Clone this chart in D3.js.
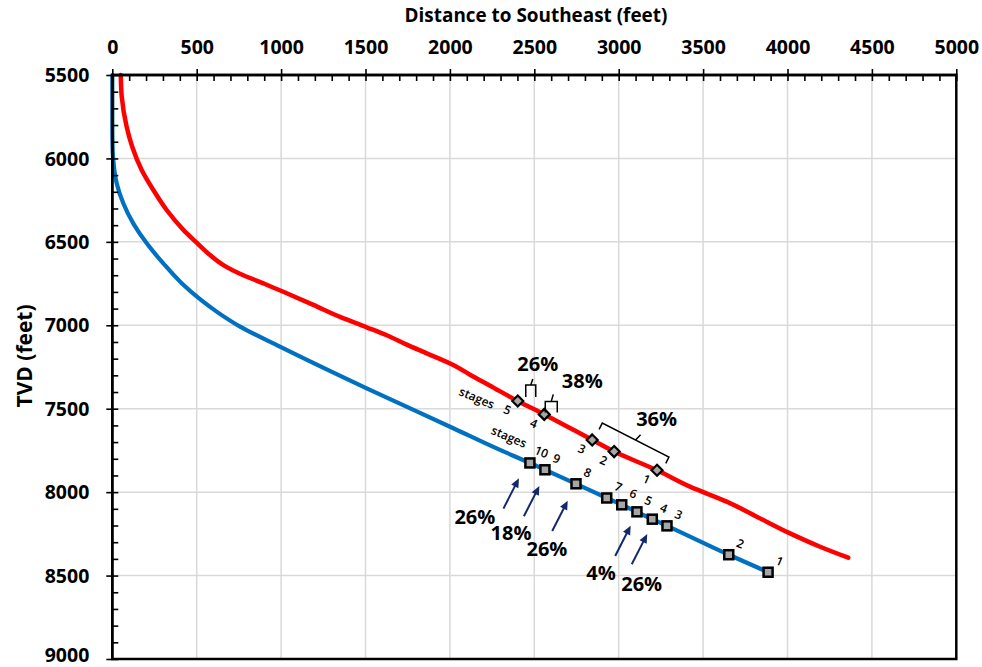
<!DOCTYPE html>
<html><head><meta charset="utf-8">
<script src="https://cdn.jsdelivr.net/npm/d3@7"></script>
<style>body{margin:0;background:#fff} text{font-family:"Open Sans","Noto Sans",sans-serif}</style>
</head><body><svg id="c" width="982" height="667"></svg>
<script>
// ---------------- DATA ----------------
const xTicks = [0,500,1000,1500,2000,2500,3000,3500,4000,4500,5000];
const yTicks = [5500,6000,6500,7000,7500,8000,8500,9000];
const xTitle = "Distance to Southeast (feet)";
const yTitle = "TVD (feet)";

// well paths [distance, TVD]
const redCurve = [[50,5500],[56,5630],[85,5810],[118,5930],[174,6069],[243,6189],[322,6309],[421,6428],[500,6505],[579,6579],[658,6639],[776,6700],[915,6757],[1033,6808],[1191,6878],[1349,6950],[1507,7012],[1626,7060],[1744,7116],[1863,7168],[2020,7238],[2119,7296],[2238,7362],[2402,7454],[2559,7534],[2843,7687],[2973,7757],[3227,7869],[3422,7967],[3640,8057],[3818,8147],[4015,8247],[4193,8327],[4360,8393]];
const blueCurve = [[0,5500],[0,5800],[2,5950],[6,6009],[12,6069],[26,6149],[65,6269],[124,6389],[204,6509],[302,6629],[411,6748],[525,6848],[618,6918],[757,7008],[993,7128],[1507,7378],[2020,7617],[2297,7747]];

// stages
const redStageNums = [5,4,3,2,1];
const redStageDist = [2402,2559,2843,2973,3227];
const redStageTVD  = [7454,7534,7687,7757,7869];
const blueStageNums = [10,9,8,7,6,5,4,3,2,1];
const blueStageDist = [2474,2563,2747,2929,3018,3108,3199,3286,3652,3885];
const blueStageTVD  = [7825,7866,7950,8035,8076,8118,8162,8202,8375,8480];

// red bracket annotations (stage ranges)
const redBracketFrom = [5,4,3];
const redBracketTo   = [5,4,1];
const redPct = ["26%","38%","36%"];

// blue arrow annotations
const bluePct = ["26%","18%","26%","4%","26%"];
const blueArrowDist = [2409,2530,2698,3071,3169];
const blueArrowTVD  = [7917,7963,8051,8201,8251];
const bluePctDist = [2148,2362,2575,2895,3136];
const bluePctTVD  = [8149,8245,8341,8485,8550];

// ---------------- STYLE ----------------
const W=982,H=667, L=112.3, R=956.3, T=75, B=659;
const RED="#ff0000", BLUE="#0070c0", NAVY="#14296b", GRID="#d9d9d9", MFILL="#a6a6a6";
const bracketStyle = [
  {off:[13,-16], hw:5,  leg:12, ang:0,  tick:6, lab:[7,-21]},
  {off:[7,-13],  hw:6,  leg:11, ang:0,  tick:7, lab:[31,-21]},
  {off:[11,-15], hw:37.4, leg:7, ang:27, tick:7, lab:[21,-21]}
];

const svg = d3.select("#c");
svg.append("rect").attr("width",W).attr("height",H).attr("fill","#fff");

const x = d3.scaleLinear().domain([0,5000]).range([L,R]);
const y = d3.scaleLinear().domain([5500,9000]).range([T,B]);

// gridlines
const grid = svg.append("g");
grid.selectAll(".gx").data(xTicks.slice(1,-1)).join("line")
  .attr("x1",d=>x(d)).attr("x2",d=>x(d)).attr("y1",T).attr("y2",B)
  .attr("stroke",GRID).attr("stroke-width",1.5);
grid.selectAll(".gy").data(yTicks.slice(1,-1)).join("line")
  .attr("y1",d=>y(d)).attr("y2",d=>y(d)).attr("x1",L).attr("x2",R)
  .attr("stroke",GRID).attr("stroke-width",1.5);

// lines
const line = d3.line().x(d=>x(d[0])).y(d=>y(d[1])).curve(d3.curveMonotoneY);
const blueStages = blueStageNums.map((n,i)=>({n, d:blueStageDist[i], t:blueStageTVD[i]}));
const redStages = redStageNums.map((n,i)=>({n, d:redStageDist[i], t:redStageTVD[i]}));
const bluePath = blueCurve.concat(blueStages.slice().sort((a,b)=>a.t-b.t).map(s=>[s.d,s.t]));
svg.append("path").attr("d",line(redCurve)).attr("fill","none").attr("stroke",RED).attr("stroke-width",4.5).attr("stroke-linecap","round");
svg.append("path").attr("d",line(bluePath)).attr("fill","none").attr("stroke",BLUE).attr("stroke-width",4.2).attr("stroke-linecap","round");

// border
svg.append("rect").attr("x",L).attr("y",T).attr("width",R-L).attr("height",B-T)
  .attr("fill","none").attr("stroke","#000").attr("stroke-width",2.5);

// axes
const minorX = d3.range(0,5001,100).filter(v=>v%500!==0);
const minorY = d3.range(5500,9001,100).filter(v=>v%500!==0);
function styleAxis(g){ g.selectAll(".domain").remove(); g.selectAll(".tick line").attr("stroke","#000").attr("stroke-width",1.6); }
const TICKFS = 19.5;
const ax = svg.append("g").attr("transform",`translate(0,${T})`)
  .call(d3.axisTop(x).tickValues(xTicks).tickSize(6).tickPadding(15).tickFormat(d3.format("d")));
styleAxis(ax);
ax.selectAll("text").attr("font-size",TICKFS).attr("font-weight","bold").attr("fill","#000");
svg.append("g").attr("transform",`translate(0,${T})`).call(d3.axisTop(x).tickValues(xTicks).tickSize(-6).tickFormat("")).call(styleAxis);
svg.append("g").attr("transform",`translate(0,${T})`).call(d3.axisTop(x).tickValues(minorX).tickSize(-6).tickFormat("")).call(styleAxis);

const ay = svg.append("g").attr("transform",`translate(${L},0)`)
  .call(d3.axisLeft(y).tickValues(yTicks).tickSize(6).tickPadding(17).tickFormat(d3.format("d")));
styleAxis(ay);
ay.selectAll("text").attr("font-size",TICKFS).attr("font-weight","bold").attr("fill","#000")
  .attr("dy",d=>d===9000?"0.12em":"0.34em");
svg.append("g").attr("transform",`translate(${L},0)`).call(d3.axisLeft(y).tickValues(yTicks).tickSize(-6).tickFormat("")).call(styleAxis);
svg.append("g").attr("transform",`translate(${L},0)`).call(d3.axisLeft(y).tickValues(minorY).tickSize(-6).tickFormat("")).call(styleAxis);

// axis lines on top
svg.append("line").attr("x1",L).attr("x2",R).attr("y1",T).attr("y2",T).attr("stroke","#000").attr("stroke-width",2.5);
svg.append("line").attr("x1",L).attr("x2",L).attr("y1",T).attr("y2",B).attr("stroke","#000").attr("stroke-width",2.5);

// titles (sized to match the reference widths)
function fitText(sel, target, fs){ sel.attr("font-size",fs); const w=sel.node().getComputedTextLength(); sel.attr("font-size", fs*target/w); }
const tx = svg.append("text").attr("x",536).attr("y",22).attr("text-anchor","middle")
  .attr("font-weight","bold").text(xTitle);
fitText(tx, 263, 18);
const ty = svg.append("text").attr("transform","translate(32,356) rotate(-90)").attr("text-anchor","middle")
  .attr("font-weight","bold").text(yTitle);
fitText(ty, 103, 18);

// markers
svg.selectAll(".bm").data(blueStages).join("rect")
  .attr("x",d=>x(d.d)-4.5).attr("y",d=>y(d.t)-4.5).attr("width",9).attr("height",9)
  .attr("fill",MFILL).attr("stroke","#000").attr("stroke-width",2.5);
svg.selectAll(".rm").data(redStages).join("path")
  .attr("d",d=>{const cx=x(d.d), cy=y(d.t), r=5.5; return `M${cx},${cy-r}L${cx+r},${cy}L${cx},${cy+r}L${cx-r},${cy}Z`;})
  .attr("fill",MFILL).attr("stroke","#000").attr("stroke-width",2.2);

// stage labels
const ANG=23, SFS=12, SFW=600;
svg.selectAll(".rl").data(redStages).join("text")
  .attr("transform",d=>`translate(${x(d.d)-10.5},${y(d.t)+9}) rotate(${ANG})`)
  .attr("text-anchor","middle").attr("dy","0.35em").attr("font-size",SFS).attr("font-weight",SFW).text(d=>d.n);
svg.selectAll(".bl").data(blueStages).join("text")
  .attr("transform",d=>`translate(${x(d.d)+11.5},${y(d.t)-11}) rotate(${ANG})`)
  .attr("text-anchor","middle").attr("dy","0.35em").attr("font-size",SFS).attr("font-weight",SFW).text(d=>d.n);
const r5 = redStages[0], b10 = blueStages[0];
svg.append("text").attr("transform",`translate(${x(r5.d)-41},${y(r5.t)-3}) rotate(${ANG})`)
  .attr("text-anchor","middle").attr("dy","0.35em").attr("font-size",SFS).attr("font-weight",SFW).text("stages");
svg.append("text").attr("transform",`translate(${x(b10.d)-21},${y(b10.t)-26}) rotate(${ANG})`)
  .attr("text-anchor","middle").attr("dy","0.35em").attr("font-size",SFS).attr("font-weight",SFW).text("stages");

// red brackets
const stagePos = n => { const s = redStages.find(s=>s.n===n); return [x(s.d), y(s.t)]; };
redPct.forEach((lab,i)=>{
  const st = bracketStyle[i];
  const p1 = stagePos(redBracketFrom[i]), p2 = stagePos(redBracketTo[i]);
  const cx = (p1[0]+p2[0])/2 + st.off[0], cy = (p1[1]+p2[1])/2 + st.off[1];
  const a = st.ang*Math.PI/180, c=Math.cos(a), s=Math.sin(a);
  const P = (u,v)=>[cx+u*c - v*s, cy+u*s + v*c];
  const pts = [P(-st.hw,st.leg),P(-st.hw,0),P(st.hw,0),P(st.hw,st.leg)];
  svg.append("path").attr("d","M"+pts.map(p=>p.join(",")).join("L"))
    .attr("fill","none").attr("stroke","#000").attr("stroke-width",1.5);
  const t0=P(0,0), t1=P(2,-st.tick);
  svg.append("line").attr("x1",t0[0]).attr("y1",t0[1]).attr("x2",t1[0]).attr("y2",t1[1])
    .attr("stroke","#000").attr("stroke-width",1.5);
  svg.append("text").attr("x",cx+st.lab[0]).attr("y",cy+st.lab[1]).attr("dy","0.36em")
    .attr("text-anchor","middle").attr("font-size",20).attr("font-weight","bold").text(lab);
});

// blue arrows
const TAIL=[-15.5,30.3];
bluePct.forEach((lab,i)=>{
  const tx=x(blueArrowDist[i]), ty=y(blueArrowTVD[i]);
  const sx=tx+TAIL[0], sy=ty+TAIL[1];
  const len=Math.hypot(tx-sx,ty-sy), ux=(tx-sx)/len, uy=(ty-sy)/len;
  const hl=9, hw=4;
  const bx=tx-ux*hl, by=ty-uy*hl;
  svg.append("line").attr("x1",sx).attr("y1",sy).attr("x2",bx+ux*1).attr("y2",by+uy*1)
    .attr("stroke",NAVY).attr("stroke-width",2);
  svg.append("path").attr("d",`M${tx},${ty}L${bx-uy*hw},${by+ux*hw}L${bx+uy*hw},${by-ux*hw}Z`).attr("fill",NAVY);
  svg.append("text").attr("x",x(bluePctDist[i])).attr("y",y(bluePctTVD[i])).attr("dy","0.36em")
    .attr("text-anchor","middle").attr("font-size",20).attr("font-weight","bold").text(lab);
});
</script></body></html>
